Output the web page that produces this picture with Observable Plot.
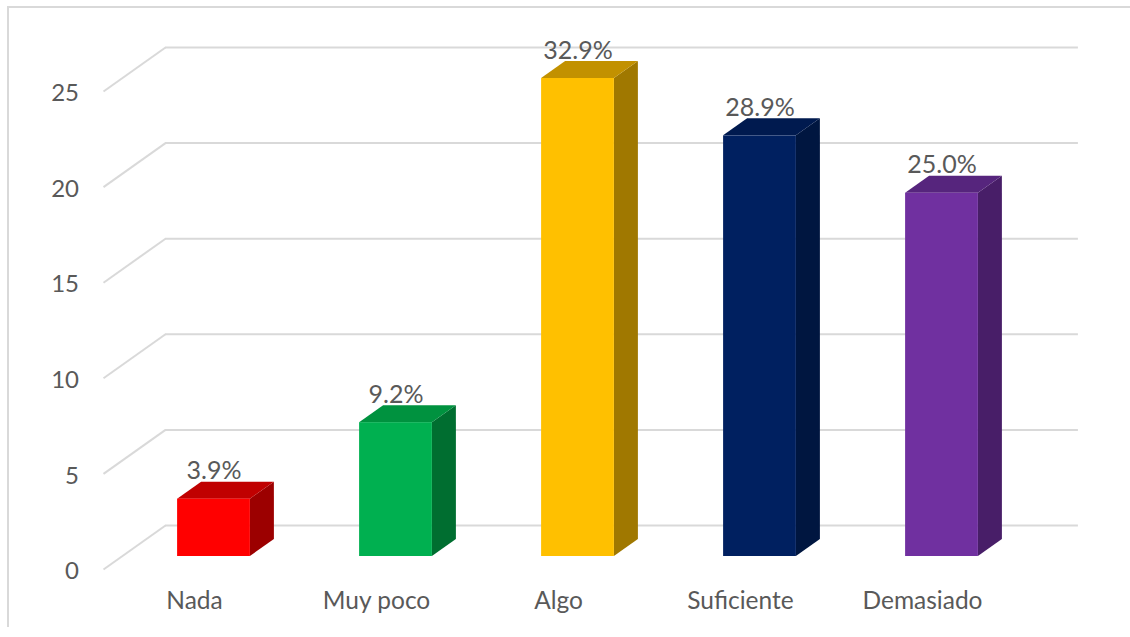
<!DOCTYPE html>
<html>
<head>
<meta charset="utf-8">
<script src="https://cdn.jsdelivr.net/npm/d3@7"></script>
<script src="https://cdn.jsdelivr.net/npm/@observablehq/plot@0.6"></script>
<style>
  html, body { margin: 0; padding: 0; background: #ffffff; }
  #wrap { position: relative; width: 1130px; height: 637px; overflow: hidden; }
  #border { position: absolute; left: 7px; top: 6px; width: 1130px; height: 621px;
            border-left: 2px solid #d9d9d9; border-top: 2px solid #d9d9d9; box-sizing: border-box; }
  #chart { position: absolute; left: 0; top: 0; }
</style>
</head>
<body>
<div id="wrap"><div id="border"></div><div id="chart"></div></div>
<script>
// ---- data ----
const categories = ["Nada", "Muy poco", "Algo", "Suficiente", "Demasiado"];
const counts = [3, 7, 25, 22, 19];
const percentLabels = ["3.9%", "9.2%", "32.9%", "28.9%", "25.0%"];
const yTicks = [0, 5, 10, 15, 20, 25];
const frontColors = ["#ff0000", "#00b050", "#ffc000", "#002060", "#7030a0"];
const topColors   = ["#c00000", "#00923f", "#c29100", "#001a4f", "#56257d"];
const sideColors  = ["#9c0000", "#006e30", "#a07800", "#001640", "#481e68"];

// ---- 3D geometry constants (data units) ----
const HALF = 0.2;            // half width of the bar front
const DX = 24 / 182, DY = 17 / 19.12;          // bar depth
const WX = 42.5 / 182, WY = 31 / 19.12;        // back wall offset
const FX = -19.5 / 182, FY = -13 / 19.12;      // front floor offset

const bars = categories.map((c, i) => ({
  i, cat: c, v: counts[i], label: percentLabels[i],
  front: frontColors[i], top: topColors[i], side: sideColors[i]
}));

const sidePts = bars.flatMap(b => [
  {i: b.i, x: b.i + HALF,      y1: 0,      y2: b.v,      fill: b.side},
  {i: b.i, x: b.i + HALF + DX, y1: DY,     y2: b.v + DY, fill: b.side}
]);
const topPts = bars.flatMap(b => [
  {i: b.i, y: b.v,      x1: b.i - HALF,      x2: b.i + HALF,      fill: b.top},
  {i: b.i, y: b.v + DY, x1: b.i - HALF + DX, x2: b.i + HALF + DX, fill: b.top}
]);

const FONT = "Lato, 'Open Sans', sans-serif";
const TEXT = "#595959";

const chart = Plot.plot({
  width: 1130,
  height: 637,
  marginLeft: 122.5,
  marginRight: 97.5,
  marginTop: 78,
  marginBottom: 81,
  style: { fontFamily: FONT, background: "transparent", overflow: "visible" },
  x: { type: "linear", domain: [-0.5, 4.5], axis: null },
  y: { domain: [0, 25], axis: null },
  marks: [
    // back wall gridlines
    Plot.ruleY(yTicks, { y: d => d + WY, x1: -0.5 + WX, x2: 4.5 + WX + 0.016,
                         stroke: "#d9d9d9", strokeWidth: 2 }),
    // side wall slants
    Plot.link(yTicks, { x1: -0.5 + FX, y1: d => d + FY, x2: -0.5 + WX, y2: d => d + WY,
                        stroke: "#d9d9d9", strokeWidth: 2 }),
    // bars: side, top, front
    Plot.areaY(sidePts, { x: "x", y1: "y1", y2: "y2", z: "i", fill: "fill" }),
    Plot.areaX(topPts, { y: "y", x1: "x1", x2: "x2", z: "i", fill: "fill" }),
    Plot.rectY(bars, { x1: d => d.i - HALF, x2: d => d.i + HALF, y1: 0, y2: "v", fill: "front" }),
    // value labels
    Plot.text(bars, { x: "i", y: "v", text: "label", dy: -28, fill: TEXT,
                      fontSize: 25, textAnchor: "middle", lineAnchor: "middle" }),
    // y axis labels
    Plot.axisY(yTicks, { anchor: "left", tickSize: 0, tickPadding: 44, dy: 15,
                         fontSize: 24, color: TEXT, label: null }),
    // category labels
    Plot.axisX([0, 1, 2, 3, 4], { anchor: "bottom", tickSize: 0, tickPadding: 0,
                         dx: -19.5, dy: 35, lineAnchor: "top", fontSize: 24.5, color: TEXT,
                         tickFormat: i => categories[i], label: null })
  ]
});
document.getElementById("chart").appendChild(chart);
</script>
</body>
</html>
